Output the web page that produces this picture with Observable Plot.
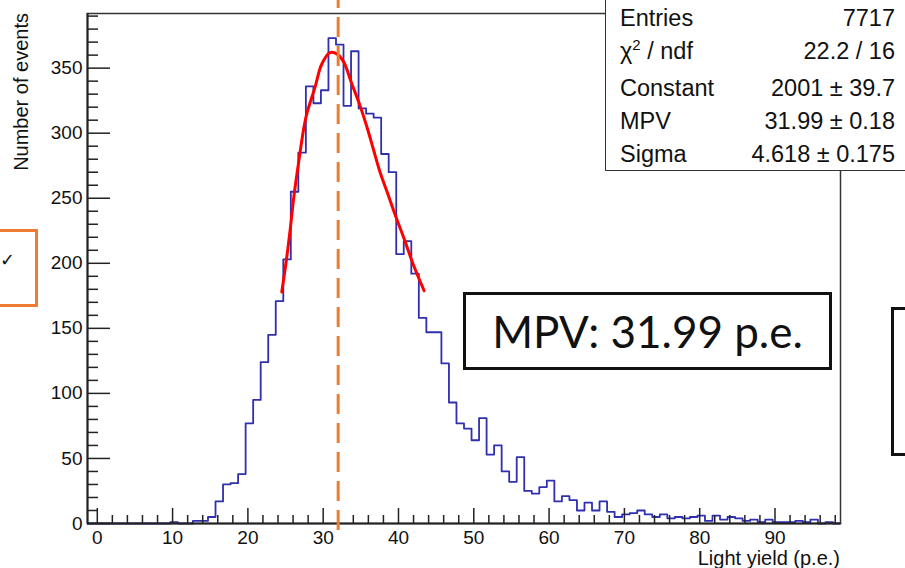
<!DOCTYPE html>
<html>
<head>
<meta charset="utf-8">
<script src="https://cdn.jsdelivr.net/npm/d3@7"></script>
<script src="https://cdn.jsdelivr.net/npm/@observablehq/plot@0.6"></script>
<style>
  html, body { margin: 0; padding: 0; background: #fff; }
  #wrap { position: relative; width: 905px; height: 568px; overflow: hidden; background: #fff;
          font-family: "Liberation Sans", Arial, Helvetica, sans-serif; color: #111; }
  #wrap svg { position: absolute; left: 0; top: 0; }
  .abs { position: absolute; white-space: nowrap; line-height: 1; }
  #ytitle { left: 0; top: 0; font-size: 20px; transform-origin: 0 0;
            transform: translate(11px, 13px) rotate(-90deg) translateX(-100%); }
  #xtitle { right: 65px; top: 548px; font-size: 20px; }
  #stats { position: absolute; left: 605px; top: -6px; width: 320px; height: 177px;
           background: #fff; border: 1.5px solid #333; box-sizing: border-box; }
  .srow { position: absolute; font-size: 23.5px; line-height: 1; white-space: nowrap; }
  .sl { left: 620px; }
  .sr { right: 10px; text-align: right; }
  #mpvbox { position: absolute; left: 463px; top: 292px; width: 369px; height: 78px; box-sizing: border-box;
            border: 3px solid #111; background: #fff; display: flex; align-items: center; justify-content: center;
            font-family: Lato, "Open Sans", sans-serif; font-size: 44px; color: #111; }
  #orangebox { position: absolute; left: -10px; top: 229px; width: 48px; height: 78px; box-sizing: border-box;
               border: 3px solid #ed7d31; }
  #check { position: absolute; left: 0px; top: 251px; font-size: 18px; font-family: "DejaVu Sans", sans-serif; color: #111; }
  #rightbox { position: absolute; left: 891px; top: 307px; width: 40px; height: 149px; box-sizing: border-box;
              border: 3px solid #111; }
</style>
</head>
<body>
<div id="wrap"></div>
<script>
// ---------------- data ----------------
// histogram: 100 bins of width 1, first lower edge at -1.3
const binStart = -1.3;
const binWidth = 1;
const counts = [
  0, 0, 0, 0, 0, 0, 0, 0, 0, 0,
  0, 1, 0, 0, 2, 2, 5, 17, 30, 31,
  38, 77, 95, 124, 145, 171, 203, 255, 285, 336,
  323, 333, 373, 368, 321, 363, 319, 315, 312, 284,
  270, 207, 217, 192, 158, 147, 147, 123, 93, 77,
  73, 64, 81, 53, 60, 40, 32, 51, 25, 23,
  28, 33, 17, 21, 18, 10, 16, 10, 17, 9,
  5, 7, 8, 10, 7, 5, 7, 4, 5, 4,
  5, 6, 2, 6, 3, 5, 4, 2, 3, 1,
  3, 1, 1, 1, 2, 1, 3, 0, 1, 0
];
// Landau fit curve
const fitX = [24.5, 25.1, 25.6, 26.1, 26.7, 27.7, 28.9, 29.8, 30.9, 31.8, 32.7, 33.8, 34.9, 35.8, 36.6, 37.5, 38.6, 39.7, 40.8, 41.9, 43.1, 43.4];
const fitY = [178, 202, 225, 251, 276, 312, 335, 353, 362, 361, 355, 338, 321, 305, 289, 271, 253, 235, 218, 200, 183, 179];
const mpv = 31.99;

const xDomain = [-1.3, 98.7];
const yDomain = [0, 392];
const xMajor = [0, 10, 20, 30, 40, 50, 60, 70, 80, 90];
const xMinor = [2, 4, 6, 8, 12, 14, 16, 18, 22, 24, 26, 28, 32, 34, 36, 38, 42, 44, 46, 48, 52, 54, 56, 58,
                62, 64, 66, 68, 72, 74, 76, 78, 82, 84, 86, 88, 92, 94, 96, 98];
const yMajor = [0, 50, 100, 150, 200, 250, 300, 350];
const yMinor = [10, 20, 30, 40, 60, 70, 80, 90, 110, 120, 130, 140, 160, 170, 180, 190, 210, 220, 230, 240,
                260, 270, 280, 290, 310, 320, 330, 340, 360, 370, 380, 390];

const statsLabels = ["Entries", "χ<sup>2</sup> / ndf", "Constant", "MPV", "Sigma"];
const statsValues = ["7717", "22.2 / 16", "2001 ± 39.7", "31.99 ± 0.18", "4.618 ± 0.175"];
const statsBaselines = [26.7, 60, 96.5, 130, 163];

const xTitle = "Light yield (p.e.)";
const yTitle = "Number of events";
const mpvText = "MPV: 31.99 p.e.";

// ---------------- layout ----------------
const W = 905, H = 568;
const mL = 87, mR = 65, mT = 13, mB = 45;
const plotW = W - mL - mR, plotH = H - mT - mB;

const histPts = counts.map((c, i) => ({x: binStart + i * binWidth, y: c}));
histPts.push({x: binStart + counts.length * binWidth, y: counts[counts.length - 1]});
const fitPts = fitX.map((x, i) => ({x, y: fitY[i]}));

const blue = "#2f2fb0";
const orange = "#ed7d31";
const ink = "#222";
const tickFont = 19;

const chart = Plot.plot({
  width: W, height: H,
  marginLeft: mL, marginRight: mR, marginTop: mT, marginBottom: mB,
  style: {fontFamily: "'Liberation Sans', Arial, Helvetica, sans-serif", fontSize: "19px", color: "#111", background: "transparent"},
  x: {domain: xDomain},
  y: {domain: yDomain},
  marks: [
    Plot.line(histPts, {x: "x", y: "y", curve: "step-after", stroke: blue, strokeWidth: 1.8}),
    Plot.line(fitPts, {x: "x", y: "y", curve: "catmull-rom", stroke: "#ff0000", strokeWidth: 3}),
    Plot.frame({stroke: "#333", strokeWidth: 1.5}),
    Plot.ruleY([yDomain[0]], {stroke: ink, strokeWidth: 2}),
    Plot.ruleX([xDomain[0]], {stroke: ink, strokeWidth: 2}),
    Plot.tickY(yMajor, {y: d => d, stroke: ink, strokeWidth: 1.5, insetRight: plotW - 23}),
    Plot.tickY(yMinor, {y: d => d, stroke: ink, strokeWidth: 1.5, insetRight: plotW - 11}),
    Plot.tickX(xMajor, {x: d => d, stroke: ink, strokeWidth: 1.5, insetTop: plotH - 15}),
    Plot.tickX(xMinor, {x: d => d, stroke: ink, strokeWidth: 1.5, insetTop: plotH - 8}),
    Plot.axisY({ticks: yMajor, tickSize: 0, tickPadding: 5, label: null, fill: "#111", fontSize: tickFont}),
    Plot.axisX({ticks: xMajor, tickSize: 0, tickPadding: 7, label: null, fill: "#111", fontSize: tickFont}),
    Plot.ruleX([mpv], {x: d => d, stroke: orange, strokeWidth: 3, strokeDasharray: "20,9", strokeDashoffset: 12,
                       insetTop: -mT, insetBottom: -10})
  ]
});

const wrap = document.getElementById("wrap");
wrap.appendChild(chart);

function addDiv(id, cls, html, styleObj) {
  const d = document.createElement("div");
  if (id) d.id = id;
  if (cls) d.className = cls;
  d.innerHTML = html;
  if (styleObj) Object.assign(d.style, styleObj);
  wrap.appendChild(d);
  return d;
}

addDiv("ytitle", "abs", yTitle);
addDiv("xtitle", "abs", xTitle);
addDiv("stats", null, "");
const fs = 23.5, baseOff = 0.8465 * fs;
statsLabels.forEach((lab, i) => {
  addDiv(null, "srow sl", lab, {top: (statsBaselines[i] - baseOff) + "px"});
  addDiv(null, "srow sr", statsValues[i], {top: (statsBaselines[i] - baseOff) + "px"});
});
document.querySelectorAll(".srow sup").forEach(s => { s.style.fontSize = "15px"; s.style.verticalAlign = "9px"; s.style.lineHeight = "0"; });
addDiv("mpvbox", null, mpvText);
addDiv("orangebox", null, "");
addDiv("check", "abs", "✓");
addDiv("rightbox", null, "");
</script>
</body>
</html>
